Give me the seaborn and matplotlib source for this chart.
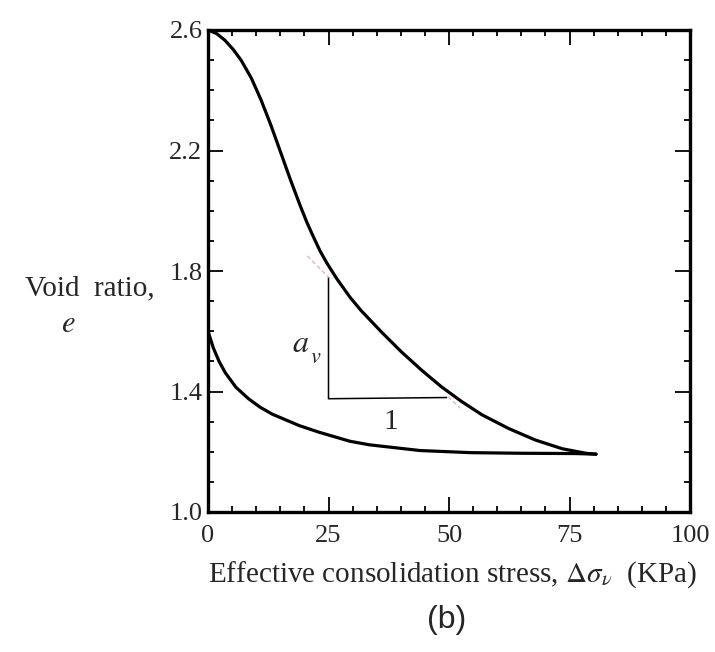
import matplotlib
matplotlib.use("Agg")
import matplotlib.pyplot as plt
import seaborn as sns
import pandas as pd

# Loading (upper) curve: effective stress (kPa) vs void ratio
upper_stress = [0, 1.8, 3.5, 5.2, 6.9, 9.0, 11.0, 13.05, 15.07, 17.1, 19.1, 20.5, 21.85,
                23.2, 24.6, 26.65, 29.5, 31.8, 35.96, 40.1, 44.3, 48.4, 52.6, 56.8,
                62.4, 67.9, 73.5, 78.4, 80.5]
upper_e = [2.60, 2.588, 2.566, 2.536, 2.499, 2.44, 2.368, 2.284, 2.194, 2.103, 2.018,
           1.962, 1.914, 1.868, 1.828, 1.776, 1.712, 1.668, 1.598, 1.532, 1.471, 1.416,
           1.367, 1.323, 1.277, 1.239, 1.210, 1.195, 1.192]

# Unloading (lower) curve
lower_stress = [0, 1.1, 2.3, 3.6, 5.8, 8.4, 10.8, 13.3, 18.9, 23.0, 29.4, 33.5, 44.0,
                54.5, 65.0, 76.3, 80.5]
lower_e = [1.60, 1.545, 1.50, 1.462, 1.414, 1.376, 1.348, 1.325, 1.287, 1.265, 1.235,
           1.223, 1.204, 1.197, 1.195, 1.194, 1.192]

# Slope triangle (a_v over unit step)
tri_stress = [25, 25, 49.5]
tri_e = [1.778, 1.376, 1.38]

x_ticks = [0, 25, 50, 75, 100]
x_labels = ["0", "25", "50", "75", "100"]
y_ticks = [1.0, 1.4, 1.8, 2.2, 2.6]
y_labels = ["1.0", "1.4", "1.8", "2.2", "2.6"]

sns.set_style("ticks")
plt.rcParams["font.family"] = ["Liberation Serif", "DejaVu Serif"]
plt.rcParams["mathtext.fontset"] = "stix"

fig = plt.figure(figsize=(7.15, 6.52), dpi=100)
ax = fig.add_axes([208 / 715, 1 - 512 / 652, 482 / 715, 482 / 652])

df_up = pd.DataFrame({"stress": upper_stress, "e": upper_e})
df_lo = pd.DataFrame({"stress": lower_stress, "e": lower_e})
df_tri = pd.DataFrame({"stress": tri_stress, "e": tri_e})

common = dict(x="stress", y="e", sort=False, estimator=None, errorbar=None,
              color="black", ax=ax, legend=False)
sns.lineplot(data=df_up, lw=2.3, solid_capstyle="round", solid_joinstyle="round", **common)
sns.lineplot(data=df_lo, lw=2.3, solid_capstyle="round", solid_joinstyle="round", **common)
sns.lineplot(data=df_tri, lw=1.1, **common)

# faint chord extensions
ax.plot([20.6, 25.3], [1.85, 1.775], color="#e8a0a8", lw=1.0, ls=(0, (3, 2)), alpha=0.8)
ax.plot([49.8, 52.3], [1.383, 1.345], color="#e8a0a8", lw=1.0, ls=(0, (3, 2)), alpha=0.8)

ax.text(19.2, 1.555, "$a$", fontsize=23, ha="center", va="center")
ax.text(22.4, 1.51, "$v$", fontsize=16, ha="center", va="center")
ax.text(38.0, 1.30, "1", fontsize=21, ha="center", va="center")

ax.set_xlim(0, 100)
ax.set_ylim(1.0, 2.6)
ax.set_xticks(x_ticks)
ax.set_xticklabels(x_labels)
ax.set_yticks(y_ticks)
ax.set_yticklabels(y_labels)
ax.set_xticks([v for v in range(5, 100, 5) if v % 25 != 0], minor=True)
ax.set_yticks([1.1, 1.2, 1.3, 1.5, 1.6, 1.7, 1.9, 2.0, 2.1, 2.3, 2.4, 2.5], minor=True)
ax.tick_params(which="both", direction="in", top=True, right=True, labelsize=19,
               color="black", width=1.3)
ax.tick_params(which="major", length=11)
ax.tick_params(which="minor", length=4)
ax.tick_params(axis="x", pad=9)
ax.tick_params(axis="y", pad=4)
for s in ax.spines.values():
    s.set_linewidth(2.4)
    s.set_color("black")
ax.set_xlabel("")
ax.set_ylabel("")

fig.text(90 / 715, 1 - 288 / 652, "Void  ratio,", fontsize=21, ha="center", va="center")
fig.text(68 / 715, 1 - 325 / 652, "$e$", fontsize=22, ha="center", va="center")
fig.text(452 / 715, 1 - 575 / 652,
         r"Effective consolidation stress, $\Delta\sigma_{\nu}$  (KPa)",
         fontsize=21, ha="center", va="center")
fig.text(447 / 715, 1 - 620 / 652, "(b)", fontsize=23, ha="center", va="center",
         family=["Liberation Sans", "DejaVu Sans"])

fig.savefig("out.png", dpi=100, facecolor="white")
